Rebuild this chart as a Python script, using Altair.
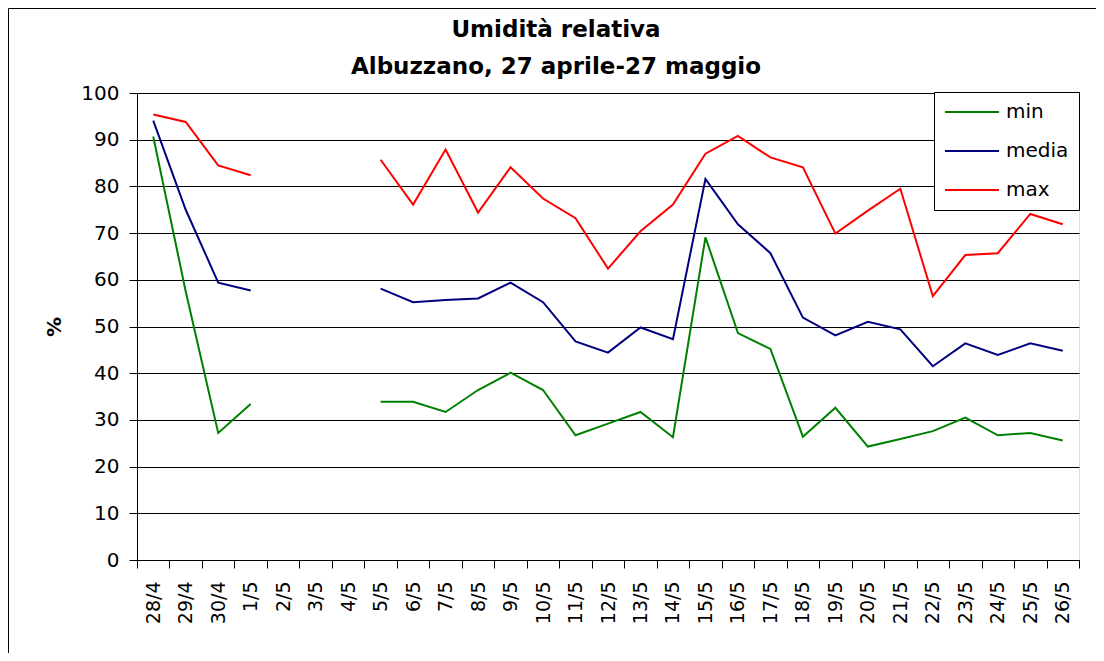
import altair as alt
import pandas as pd

dates = ["28/4", "29/4", "30/4", "1/5", "2/5", "3/5", "4/5", "5/5", "6/5", "7/5",
         "8/5", "9/5", "10/5", "11/5", "12/5", "13/5", "14/5", "15/5", "16/5", "17/5",
         "18/5", "19/5", "20/5", "21/5", "22/5", "23/5", "24/5", "25/5", "26/5"]

min_vals = [90.7, 57.5, 27.2, 33.4, None, None, None, 33.9, 33.9, 31.7, 36.4, 40.1, 36.4,
            26.7, 29.2, 31.7, 26.3, 69.1, 48.6, 45.2, 26.4, 32.6, 24.3, 25.9, 27.6, 30.5,
            26.7, 27.2, 25.6]
media_vals = [94.1, 75.0, 59.4, 57.7, None, None, None, 58.1, 55.2, 55.7, 56.0, 59.4, 55.2,
              46.8, 44.4, 49.8, 47.3, 81.6, 71.9, 65.7, 51.9, 48.1, 51.0, 49.4, 41.5, 46.4,
              43.9, 46.4, 44.8]
max_vals = [95.4, 93.8, 84.5, 82.4, None, None, None, 85.7, 76.1, 87.9, 74.4, 84.1, 77.4,
            73.2, 62.4, 70.4, 76.1, 87.0, 90.8, 86.2, 84.1, 69.9, 74.8, 79.5, 56.5, 65.3,
            65.7, 74.1, 71.9]

series_names = ["min", "media", "max"]
series_colors = ["#008000", "#000080", "#FF0000"]
title_lines = ["Umidità relativa", "Albuzzano, 27 aprile-27 maggio"]
y_ticks = list(range(0, 101, 10))

rows = []
for name, vals in zip(series_names, [min_vals, media_vals, max_vals]):
    seg = 0
    prev_none = False
    for d, v in zip(dates, vals):
        if v is None:
            prev_none = True
            continue
        if prev_none:
            seg += 1
            prev_none = False
        rows.append({"data": d, "serie": name, "valore": v, "seg": f"{name}-{seg}"})
df = pd.DataFrame(rows)

FONT = "DejaVu Sans"

lines = alt.Chart(df).mark_line(strokeWidth=2).encode(
    x=alt.X("data:N", bandPosition=0.5,
            scale=alt.Scale(type="band", domain=dates, paddingInner=0, paddingOuter=0),
            sort=dates,
            axis=alt.Axis(title=None, grid=False, labelAngle=270, labelAlign="right",
                          labelBaseline="middle", labelPadding=13, tickSize=8,
                          tickBand="extent", labelFontSize=19, labelFont=FONT,
                          labelColor="black", domainColor="black", tickColor="black")),
    y=alt.Y("valore:Q",
            scale=alt.Scale(domain=[0, 100], nice=False),
            axis=alt.Axis(title="%", values=y_ticks, tickSize=8, labelPadding=10,
                          labelFontSize=20, labelFont=FONT, labelColor="black",
                          titleFont=FONT, titleFontSize=20, titleFontWeight="bold",
                          titleColor="black", titlePadding=16,
                          grid=True, gridColor="black", gridWidth=1,
                          domainColor="black", tickColor="black")),
    color=alt.Color("serie:N",
                    scale=alt.Scale(domain=series_names, range=series_colors),
                    legend=alt.Legend(title=None, orient="none", legendX=797, legendY=-1,
                                      symbolType="stroke", symbolSize=2916,
                                      symbolStrokeWidth=2, clipHeight=20,
                                      rowPadding=19, padding=10,
                                      labelFont=FONT, labelFontSize=20,
                                      labelColor="black", labelOffset=6,
                                      strokeColor="black", fillColor="white")),
    detail="seg:N",
)

frame_df = pd.DataFrame({"k": [0]})
top_border = alt.Chart(frame_df).mark_rule(color="black", strokeWidth=1).encode(
    x=alt.value(-128.5), x2=alt.value(975), y=alt.value(-84.5))
left_border = alt.Chart(frame_df).mark_rule(color="black", strokeWidth=1).encode(
    x=alt.value(-128.5), y=alt.value(-84.5), y2=alt.value(580))

chart = alt.layer(lines, top_border, left_border).properties(
    width=942,
    height=467,
    autosize=alt.AutoSizeParams(type="none"),
    padding={"left": 129, "top": 85, "right": 17, "bottom": 93},
    title=alt.Title(title_lines, font=FONT, fontSize=23, fontWeight="bold",
                    color="black", anchor="middle", dx=-52, offset=-70.5,
                    lineHeight=37),
).configure_view(stroke="black", strokeWidth=1).configure(background="white")

chart.save("out.html", embed_options={"renderer": "svg", "actions": False})
